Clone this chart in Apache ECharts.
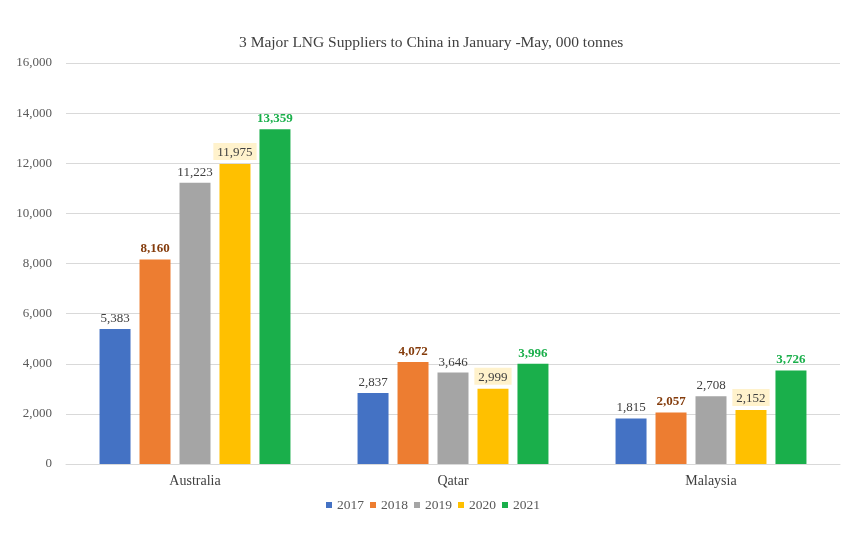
<!DOCTYPE html>
<html>
<head>
<meta charset="utf-8">
<script src="https://cdn.jsdelivr.net/npm/echarts@6/dist/echarts.min.js"></script>
<style>
  html, body { margin: 0; padding: 0; background: #fff; }
  #main { width: 852px; height: 534px; }
</style>
</head>
<body>
<div id="main"></div>
<script>
var countries = ['Australia', 'Qatar', 'Malaysia'];
var years = ['2017', '2018', '2019', '2020', '2021'];
var v2017 = [5383, 2837, 1815];
var v2018 = [8160, 4072, 2057];
var v2019 = [11223, 3646, 2708];
var v2020 = [11975, 2999, 2152];
var v2021 = [13359, 3996, 3726];

var values = [v2017, v2018, v2019, v2020, v2021];
var colors = ['#4472C4', '#ED7D31', '#A5A5A5', '#FFC000', '#1AAF4B'];
// label look per year
var labelStyles = [
  { color: '#404040', fontWeight: 'normal' },
  { color: '#843C0C', fontWeight: 'bold' },
  { color: '#404040', fontWeight: 'normal' },
  { color: '#404040', fontWeight: 'normal', backgroundColor: '#FFF2CC', padding: [3, 4, 1, 4] },
  { color: '#1AAF4B', fontWeight: 'bold' }
];

var chart = echarts.init(document.getElementById('main'));
var font = 'Liberation Serif';

var series = years.map(function (y, i) {
  return {
    name: y,
    type: 'bar',
    data: values[i],
    barGap: '29%',
    barCategoryGap: '26%',
    itemStyle: { color: colors[i] },
    label: Object.assign({
      show: true,
      position: 'top',
      distance: 4,
      fontFamily: font,
      fontSize: 13,
      formatter: function (p) { return p.value.toLocaleString('en-US'); }
    }, labelStyles[i])
  };
});

var option = {
  animation: false,
  title: {
    text: '3 Major LNG Suppliers to China in January -May, 000 tonnes',
    left: 234,
    top: 30,
    textStyle: { fontFamily: font, fontSize: 15.5, fontWeight: 'normal', color: '#404040' }
  },
  legend: {
    data: years,
    left: 321,
    bottom: 17,
    itemWidth: 6,
    itemHeight: 6,
    itemGap: 6,
    icon: 'rect',
    textStyle: { fontFamily: font, fontSize: 13.5, color: '#595959' }
  },
  grid: { left: 66, right: 12, top: 63, bottom: 70 },
  xAxis: {
    type: 'category',
    data: countries,
    axisTick: { show: false },
    axisLine: { lineStyle: { color: '#D9D9D9' } },
    axisLabel: { fontFamily: font, fontSize: 14, color: '#404040', margin: 10 }
  },
  yAxis: {
    type: 'value',
    min: 0,
    max: 16000,
    interval: 2000,
    axisLine: { show: false },
    axisTick: { show: false },
    splitLine: { lineStyle: { color: '#D9D9D9' } },
    axisLabel: {
      fontFamily: font, fontSize: 13, color: '#595959', margin: 14,
      formatter: function (v) { return v.toLocaleString('en-US'); }
    }
  },
  series: series
};
chart.setOption(option);
</script>
</body>
</html>
